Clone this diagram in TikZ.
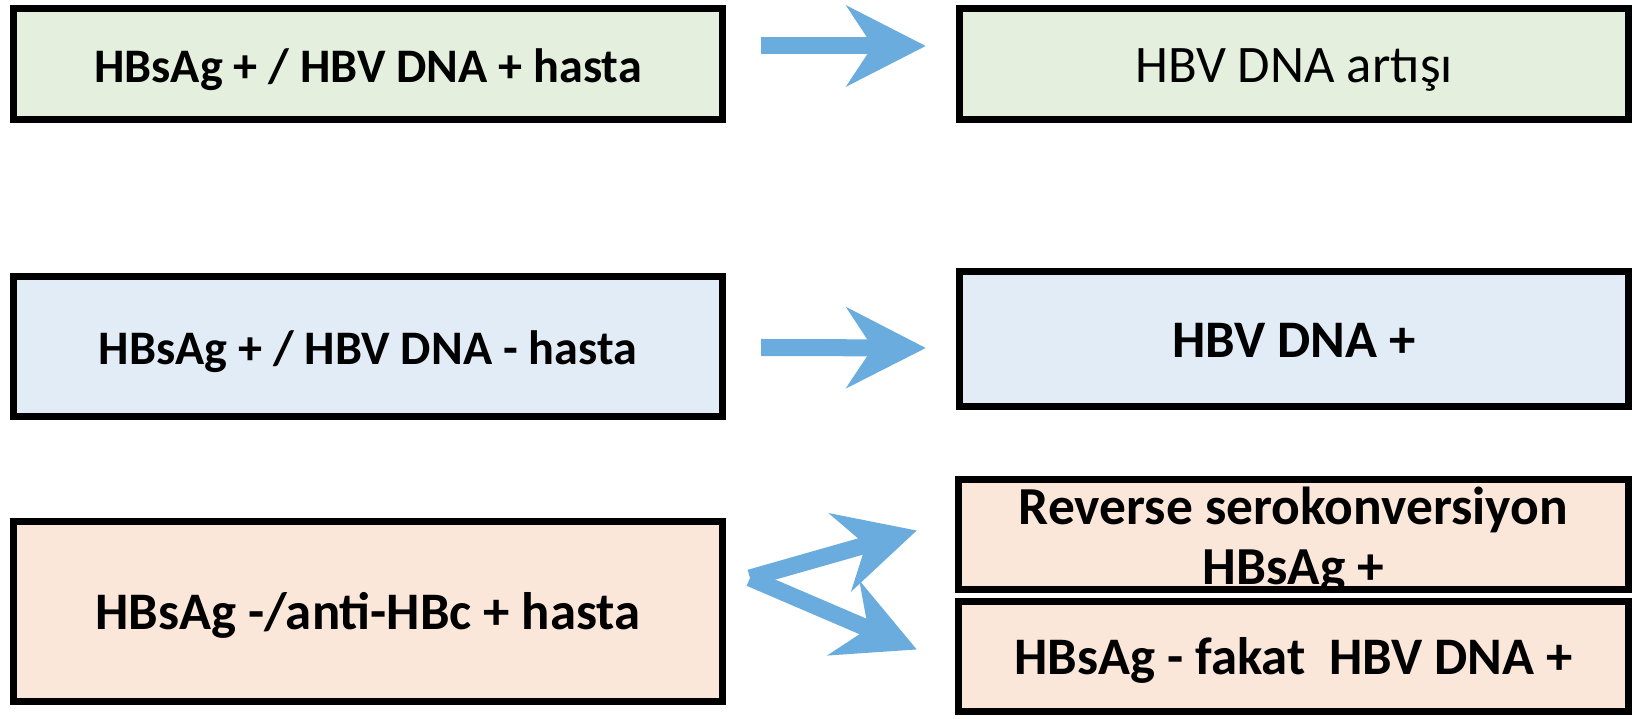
\documentclass[tikz,border=0pt]{standalone}
\usepackage{fontspec}
\setmainfont{Carlito}
\usetikzlibrary{arrows.meta,calc}
\definecolor{boxgreen}{HTML}{E4EFDD}
\definecolor{boxblue}{HTML}{E2ECF6}
\definecolor{boxpeach}{HTML}{FBE6DA}
\definecolor{arrowblue}{HTML}{6AACDD}
\begin{document}
\begin{tikzpicture}[x=0.01cm,y=-0.01cm,
    box/.style={draw=black,line width=0.07cm,inner sep=0pt,align=center,
      text height=13.5pt,text depth=3pt,
      font=\bfseries\fontsize{15}{17}\selectfont},
    bigarrow/.style={draw=arrowblue,line width=0.17cm,
      -{Stealth[length=0.79cm,width=0.8cm,inset=0.26cm]}}]
  \useasboundingbox (0,0) rectangle (1637,719);
  \draw
    (368,64) node[box,fill=boxgreen,minimum width=7.09cm,minimum height=1.11cm,
      font=\bfseries\fontsize{13.7}{16}\selectfont] (pos){HBsAg + / HBV DNA + hasta}
    (1294,64) node[box,fill=boxgreen,minimum width=6.69cm,minimum height=1.11cm,
      font=\fontsize{15}{17}\selectfont] (rise){HBV DNA artışı}
    (368,346.5) node[box,fill=boxblue,minimum width=7.09cm,minimum height=1.40cm,
      font=\bfseries\fontsize{13.7}{16}\selectfont] (neg){HBsAg + / HBV DNA - hasta}
    (1294,339) node[box,fill=boxblue,minimum width=6.69cm,minimum height=1.35cm] (dnapos){HBV DNA +}
    (368,611.5) node[box,fill=boxpeach,minimum width=7.09cm,minimum height=1.80cm] (antihbc){HBsAg -/anti-HBc + hasta}
    (1293.5,534.5) node[box,fill=boxpeach,minimum width=6.70cm,minimum height=1.10cm,
      label={[align=center,font=\bfseries\fontsize{15.2}{17}\selectfont,yshift=-0.06cm]center:Reverse serokonversiyon\\HBsAg +}] (reverse){}
    (1293.5,656.5) node[box,fill=boxpeach,minimum width=6.70cm,minimum height=1.10cm] (occult){HBsAg - fakat~~HBV DNA +};
  \coordinate (fork) at (750,578);
  \begin{scope}[bigarrow]
    \draw ($(pos.east)+(35,-18)$) to ($(rise.west)+(-30,-18)$);
    \draw ($(neg.east)+(35,1)$) to ($(dnapos.west)+(-30,9)$);
    \draw (fork) to ($(reverse.west)+(-38,-4)$);
    \draw (fork) to ($(occult.west)+(-38,-7)$);
  \end{scope}
\end{tikzpicture}
\end{document}
